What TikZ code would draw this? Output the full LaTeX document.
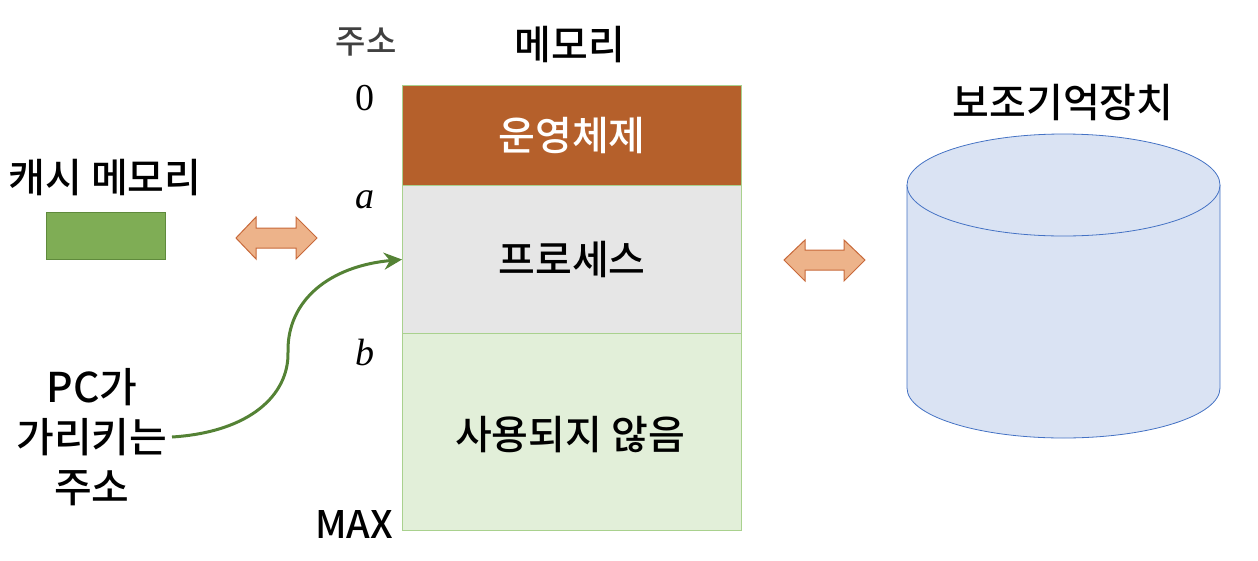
\documentclass[tikz,border=0pt]{standalone}
\usepackage{fontspec}
\setmainfont{Noto Sans CJK KR}[UprightFont=* Medium]
\newfontfamily\serifnum{Liberation Serif}
\usetikzlibrary{arrows.meta}
\definecolor{osbrown}{HTML}{B5602B}
\definecolor{procgray}{HTML}{E6E6E6}
\definecolor{freegreen}{HTML}{E2EFD9}
\definecolor{memborder}{HTML}{A9D18E}
\definecolor{cachegreen}{HTML}{7FAD55}
\definecolor{cacheborder}{HTML}{5F8A3C}
\definecolor{arrfill}{HTML}{EDB38A}
\definecolor{arrborder}{HTML}{C8693A}
\definecolor{cylfill}{HTML}{DAE3F3}
\definecolor{cylborder}{HTML}{4472C4}
\definecolor{curvegreen}{HTML}{548235}
\definecolor{addrgray}{HTML}{404040}
\tikzset{
  big/.style={font=\fontsize{40}{48}\selectfont, inner sep=0pt},
  addr/.style={font=\serifnum\fontsize{38}{42}\selectfont, inner sep=0pt},
  membox/.style={draw=memborder, line width=1pt},
  dblarrow/.style={fill=arrfill, draw=arrborder, line width=1pt, line join=miter},
}
\begin{document}
\begin{tikzpicture}[x=1pt,y=-1pt]
\useasboundingbox (0,0) rectangle (1258,560);
% headings
\node[font=\fontsize{33}{38}\selectfont, text=addrgray, inner sep=0pt] (addrhead) at (366,42) {주소};
\node[big] (memhead) at (570,45) {메모리};
% memory blocks
\node[membox, fill=osbrown, minimum width=339pt, minimum height=100pt, inner sep=0pt, anchor=north west] (os) at (402,85) {};
\node[membox, fill=procgray, minimum width=339pt, minimum height=148pt, inner sep=0pt, anchor=north west] (proc) at (402,185) {};
\node[membox, fill=freegreen, minimum width=339pt, minimum height=197pt, inner sep=0pt, anchor=north west] (free) at (402,333) {};
\node[big, text=white] (ostext) at (os.center) {운영체제};
\node[big] (proctext) at (proc.center) {프로세스};
\node[big] (freetext) at (570,435) {사용되지 않음};
% addresses
\node[addr] (a0) at (365,98) {0};
\node[addr] (aa) at (365,200) {\itshape a};
\node[addr] (ab) at (365,352) {\itshape b};
\node[font=\fontsize{38}{44}\selectfont, inner sep=0pt] (amax) at (354,524) {MAX};
% cache
\node[big] (cachetext) at (105,178) {캐시 메모리};
\node[fill=cachegreen, draw=cacheborder, line width=0.8pt, minimum width=119pt, minimum height=47pt, inner sep=0pt] (cache) at (105.5,235.5) {};
% double arrows
\draw[dblarrow] (236,238) -- (256,217) -- (256,228) -- (296,228) -- (296,217) -- (317,238)
  -- (296,259) -- (296,248) -- (256,248) -- (256,259) -- cycle;
\draw[dblarrow] (784,260) -- (805,240) -- (805,250) -- (844,250) -- (844,240) -- (865,260)
  -- (844,281) -- (844,270) -- (805,270) -- (805,281) -- cycle;
% secondary storage
\node[big] (storetext) at (1063,103) {보조기억장치};
\fill[cylfill] (907,185) -- (907,388) arc[start angle=180, end angle=0, x radius=156.5, y radius=50] -- (1220,185) -- cycle;
\draw[cylborder, line width=0.8pt] (907,185) -- (907,388) arc[start angle=180, end angle=0, x radius=156.5, y radius=50] -- (1220,185);
\draw[cylborder, line width=0.8pt, fill=cylfill] (1063.5,185) ellipse[x radius=156.5, y radius=51];
% PC label
\node[font=\fontsize{41}{50}\selectfont, align=center, inner sep=0pt] (pc) at (92,437) {PC가\\가리키는\\주소};
\coordinate (pcend) at (172,437);
\coordinate (target) at (proc.west);
\draw[curvegreen, line width=3pt, -{Stealth[length=18pt,width=17pt]}] (pcend) .. controls (250,432) and (289,395) .. (288,352) .. controls (287,300) and (330,266) .. (target);
\end{tikzpicture}
\end{document}
